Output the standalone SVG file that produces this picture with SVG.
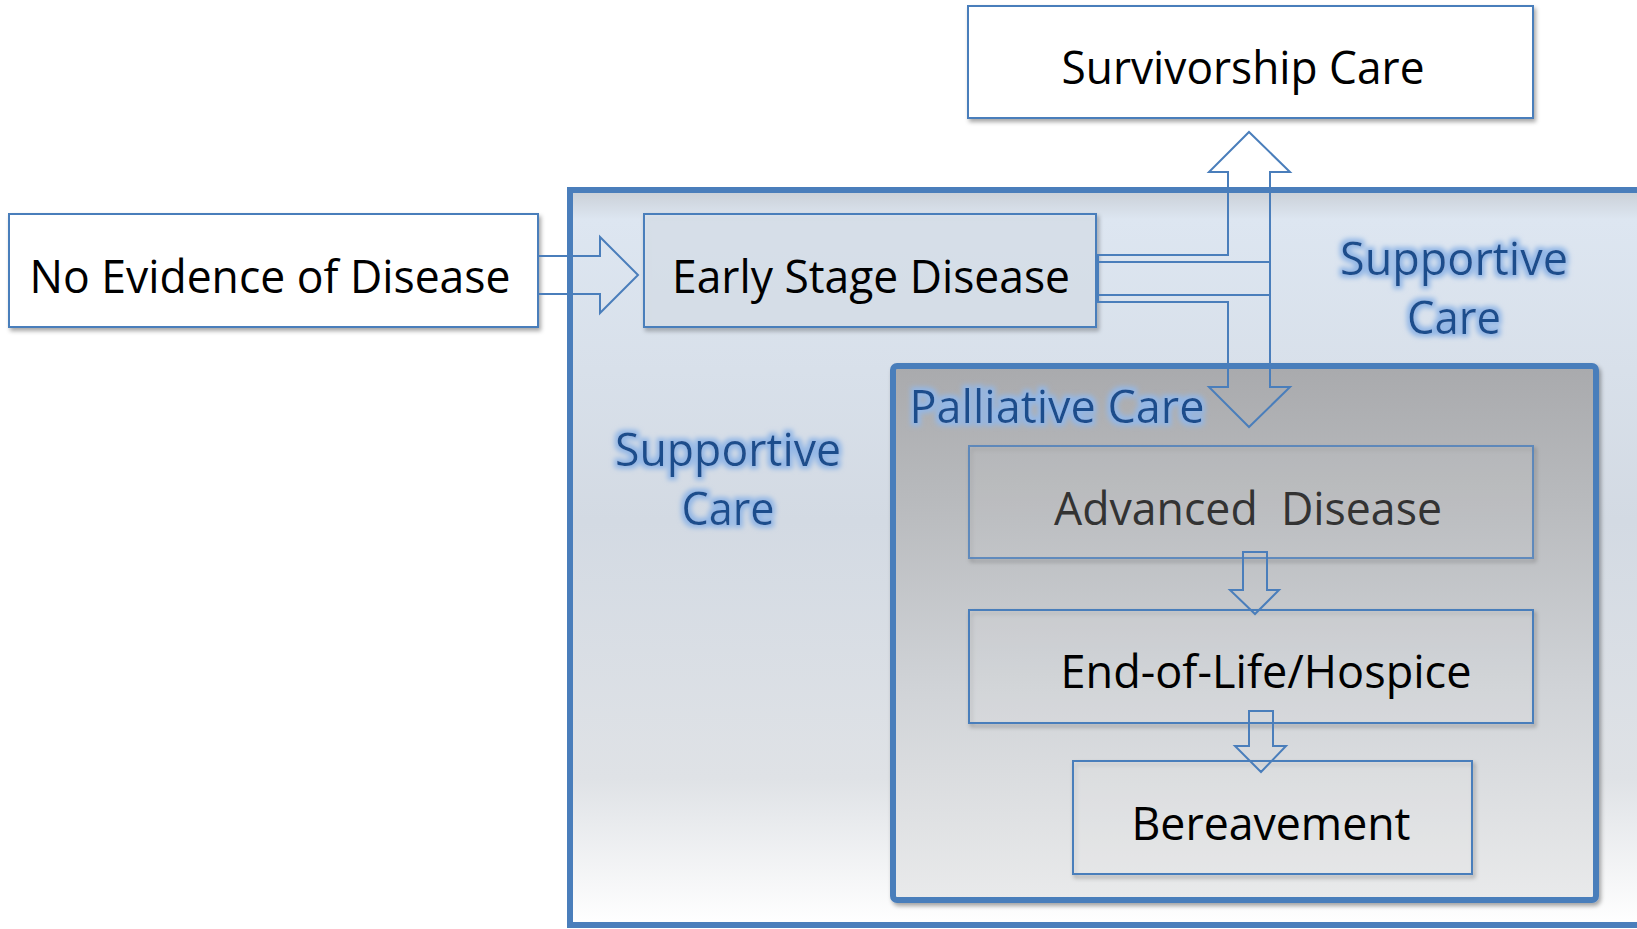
<svg xmlns="http://www.w3.org/2000/svg" width="1637" height="929" viewBox="0 0 1637 929">
<style>
.box{stroke:#4a7ebb;stroke-width:2;}
.lbl{font-family:"Open Sans","Noto Sans","Liberation Sans",sans-serif;font-size:45px;fill:#000;text-anchor:middle;}
.blue{font-family:"Open Sans","Noto Sans","Liberation Sans",sans-serif;font-size:45px;fill:#1f4e8c;text-anchor:middle;}
.arr{fill:none;stroke:#4a7ebb;stroke-width:2;stroke-linejoin:miter;}
</style>
<defs>
<linearGradient id="gOuter" x1="0" y1="0" x2="0" y2="1">
<stop offset="0" stop-color="#c9cfd6"/>
<stop offset="0.04" stop-color="#dde6f1"/>
<stop offset="0.45" stop-color="#d3dae3"/>
<stop offset="0.8" stop-color="#dfe2e6"/>
<stop offset="1" stop-color="#ffffff"/>
</linearGradient>
<linearGradient id="gPal" x1="0" y1="0" x2="0" y2="1">
<stop offset="0" stop-color="#a9aaad"/>
<stop offset="0.25" stop-color="#b8babd"/>
<stop offset="0.6" stop-color="#d0d3d7"/>
<stop offset="1" stop-color="#e9eaeb"/>
</linearGradient>
<filter id="sh" x="-5%" y="-10%" width="115%" height="130%">
<feDropShadow dx="2" dy="3" stdDeviation="2" flood-color="#000" flood-opacity="0.35"/>
</filter>
<filter id="glow" x="-10%" y="-40%" width="120%" height="180%">
<feMorphology in="SourceAlpha" operator="dilate" radius="3" result="d"/>
<feGaussianBlur in="d" stdDeviation="2.5" result="b"/>
<feFlood flood-color="#93b7e6" flood-opacity="1"/>
<feComposite in2="b" operator="in" result="g"/>
<feMerge><feMergeNode in="g"/><feMergeNode in="SourceGraphic"/></feMerge>
</filter>
</defs>
<rect width="1637" height="929" fill="#ffffff"/>

<g id="supportive-care-region">
<rect x="570" y="190" width="1075" height="735" fill="url(#gOuter)" stroke="#4a7ebb" stroke-width="6"/>
<text class="blue" filter="url(#glow)" x="728" y="466" textLength="226" lengthAdjust="spacingAndGlyphs">Supportive</text>
<text class="blue" filter="url(#glow)" x="728" y="525" textLength="93" lengthAdjust="spacingAndGlyphs">Care</text>
<text class="blue" filter="url(#glow)" x="1454" y="275" textLength="228" lengthAdjust="spacingAndGlyphs">Supportive</text>
<text class="blue" filter="url(#glow)" x="1454" y="334" textLength="94" lengthAdjust="spacingAndGlyphs">Care</text>
</g>

<g id="palliative-care-region">
<rect x="893" y="366" width="703" height="534" rx="4" fill="url(#gPal)" stroke="#4a7ebb" stroke-width="6" filter="url(#sh)"/>
<text class="blue" filter="url(#glow)" x="1057" y="423" textLength="295" lengthAdjust="spacingAndGlyphs">Palliative Care</text>
</g>

<g id="node-survivorship">
<rect class="box" x="968" y="6" width="565" height="112" fill="#ffffff" filter="url(#sh)"/>
<text class="lbl" x="1243" y="84" textLength="363" lengthAdjust="spacingAndGlyphs">Survivorship Care</text>
</g>

<g id="node-no-evidence">
<rect class="box" x="9" y="214" width="529" height="113" fill="#ffffff" filter="url(#sh)"/>
<text class="lbl" x="270" y="293" textLength="481" lengthAdjust="spacingAndGlyphs">No Evidence of Disease</text>
</g>

<g id="node-early-stage">
<rect class="box" x="644" y="214" width="452" height="113" fill="#dfe7f2" fill-opacity="0.6" filter="url(#sh)"/>
<text class="lbl" x="871" y="293" textLength="398" lengthAdjust="spacingAndGlyphs">Early Stage Disease</text>
</g>

<g id="node-advanced">
<rect class="box" x="969" y="446" width="564" height="112" fill="#ffffff" fill-opacity="0.05" stroke-opacity="0.8" filter="url(#sh)"/>
<text class="lbl" x="1248" y="525" style="fill:#333333" textLength="388" lengthAdjust="spacingAndGlyphs" xml:space="preserve">Advanced  Disease</text>
</g>

<g id="node-end-of-life">
<rect class="box" x="969" y="610" width="564" height="113" fill="#ffffff" fill-opacity="0.08" filter="url(#sh)"/>
<text class="lbl" x="1266" y="688" textLength="411" lengthAdjust="spacingAndGlyphs">End-of-Life/Hospice</text>
</g>

<g id="node-bereavement">
<rect class="box" x="1073" y="761" width="399" height="113" fill="#ffffff" fill-opacity="0.12" filter="url(#sh)"/>
<text class="lbl" x="1271" y="840" textLength="279" lengthAdjust="spacingAndGlyphs">Bereavement</text>
</g>

<g id="connectors">
<path class="arr" d="M538,256 L600,256 L600,237 L638,275 L600,313 L600,294 L538,294 Z"/>
<path class="arr" d="M1098,255 L1228,255 L1228,172 L1209,172 L1249,132 L1290,172 L1270,172 L1270,295 L1098,295 Z"/>
<path class="arr" d="M1098,302 L1228,302 L1228,387 L1209,387 L1249,427 L1290,387 L1270,387 L1270,262 L1098,262 Z"/>
<path class="arr" d="M1243,552 L1267,552 L1267,590 L1279,590 L1255,614 L1230,590 L1243,590 Z"/>
<path class="arr" d="M1249,711 L1273,711 L1273,746 L1286,746 L1261,772 L1235,746 L1249,746 Z"/>
</g>
</svg>
